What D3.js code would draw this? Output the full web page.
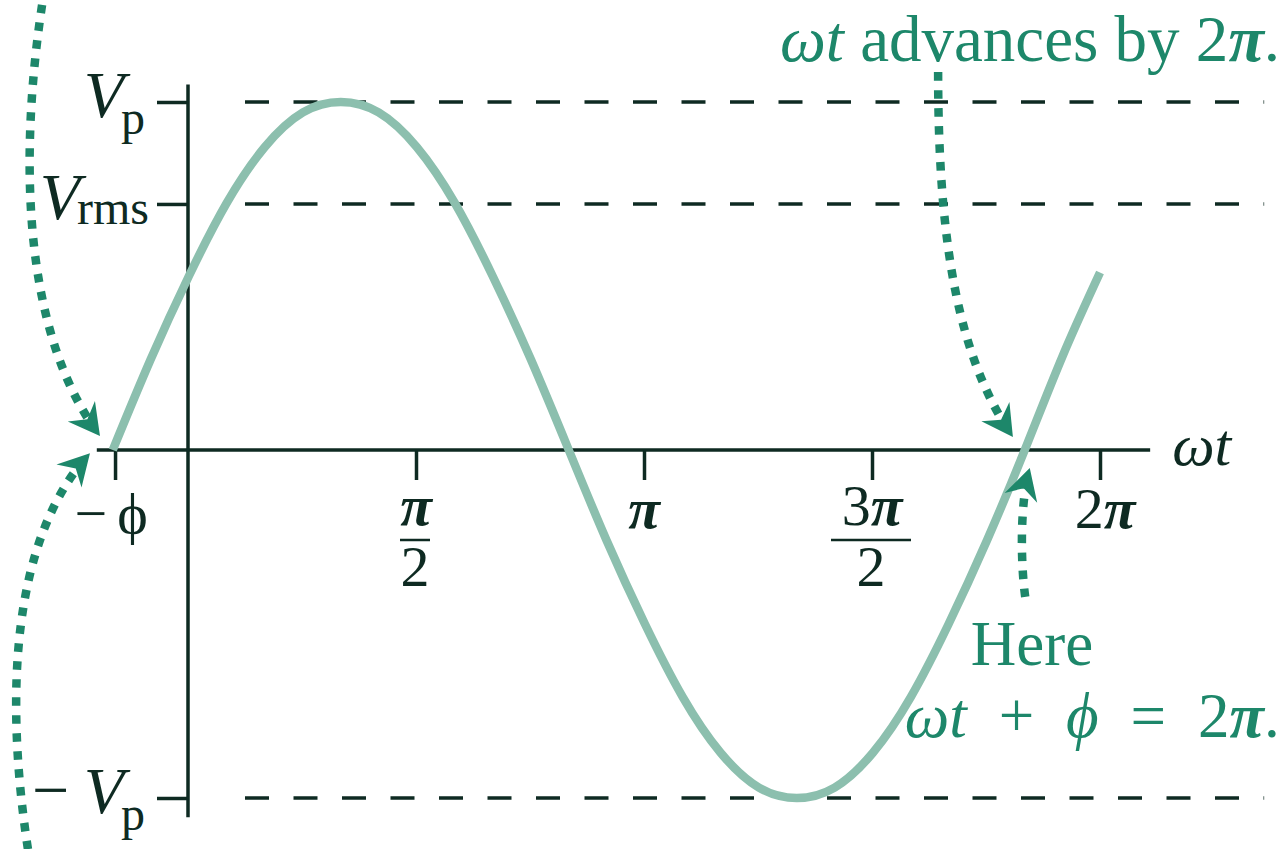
<!DOCTYPE html>
<html>
<head>
<meta charset="utf-8">
<script src="https://cdn.jsdelivr.net/npm/d3@7"></script>
<style>
body { margin: 0; background: #fff; }
svg { display: block; }
text { font-family: "Liberation Serif", "Times New Roman", serif; }
</style>
</head>
<body>
<svg id="chart" width="1283" height="849"></svg>
<script>
var width = 1283, height = 849;
var dark = "#0e2a22";
var teal = "#1d876a";
var curveColor = "#8cbfae";

// data: phase (units of pi) and voltage (units of Vp)
var phaseValues   = [-0.165, -0.082, 0.002, 0.085, 0.168, 0.252, 0.335, 0.418, 0.502, 0.585, 0.668, 0.752, 0.835,
                     0.918, 1.002, 1.085, 1.168, 1.252, 1.335, 1.418, 1.502, 1.585, 1.668, 1.752, 1.835, 1.918, 2.0];
var voltageValues = [0, 0.26, 0.5, 0.71, 0.87, 0.97, 1.0, 0.97, 0.87, 0.71, 0.5, 0.26, 0,
                     -0.26, -0.5, -0.71, -0.87, -0.97, -1.0, -0.97, -0.87, -0.71, -0.5, -0.26, 0, 0.27, 0.51];

var xTickValues = [-0.16, 0.5, 1, 1.5, 2];
var xTickNumer  = ["−ϕ", "π", "π", "3π", "2π"];
var xTickDenom  = ["", "2", "", "2", ""];

var yTickValues = [1, 0.707, -1];
var yTickSign   = ["", "", "−"];
var yTickSub    = ["p", "rms", "p"];

// annotation arrows: [start, control1, control2, tip] in data units
var arrowPaths = [
	[[-0.320, 1.279], [-0.368, 0.862], [-0.368, 0.345], [-0.193, 0.040]],
	[[-0.351, -1.147], [-0.401, -0.718], [-0.390, -0.259], [-0.215, -0.009]],
	[[1.645, 1.086], [1.645, 0.575], [1.693, 0.259], [1.809, 0.037]],
	[[1.836, -0.422], [1.825, -0.316], [1.825, -0.144], [1.846, -0.052]]
];

var svg = d3.select("#chart");

// Scales ====================================================================
var xScale = d3.scaleLinear().domain([0, 2]).range([188, 1100]);
var yScale = d3.scaleLinear().domain([-1, 1]).range([798, 102]);

// Dashed reference levels ===================================================
svg.selectAll("line.level")
	.data(yTickValues)
	.enter().append("line")
	.attr("class", "level")
	.attr("x1", xScale(0.125)).attr("x2", xScale(2.36))
	.attr("y1", function(d) { return yScale(d) })
	.attr("y2", function(d) { return yScale(d) })
	.attr("stroke", dark)
	.attr("stroke-width", 3.5)
	.attr("stroke-dasharray", "24,24.5");

// Axes ======================================================================
var xAxis = d3.axisBottom(xScale)
	.tickValues(xTickValues)
	.tickSize(30)
	.tickFormat("");

var yAxis = d3.axisLeft(yScale)
	.tickValues(yTickValues)
	.tickSize(31)
	.tickFormat("");

var gx = svg.append("g")
	.attr("class", "x-axis")
	.attr("transform", "translate(0," + yScale(0) + ")")
	.call(xAxis);
gx.select(".domain").remove();
gx.selectAll(".tick line").attr("stroke", dark).attr("stroke-width", 3.5);

var gy = svg.append("g")
	.attr("class", "y-axis")
	.attr("transform", "translate(" + xScale(0) + ",0)")
	.call(yAxis);
gy.select(".domain").remove();
gy.selectAll(".tick line").attr("stroke", dark).attr("stroke-width", 3.5);

svg.append("line")
	.attr("x1", xScale(-0.2)).attr("x2", xScale(2.11))
	.attr("y1", yScale(0)).attr("y2", yScale(0))
	.attr("stroke", dark).attr("stroke-width", 3.5);

svg.append("line")
	.attr("x1", xScale(0)).attr("x2", xScale(0))
	.attr("y1", yScale(1.05)).attr("y2", yScale(-1.055))
	.attr("stroke", dark).attr("stroke-width", 3.5);

// Curve =====================================================================
var wave = d3.line()
	.x(function(d) { return xScale(d[0]) })
	.y(function(d) { return yScale(d[1]) })
	.curve(d3.curveNatural);

svg.append("path")
	.datum(d3.zip(phaseValues, voltageValues))
	.attr("d", wave)
	.attr("fill", "none")
	.attr("stroke", curveColor)
	.attr("stroke-width", 8.5);

// Labels ====================================================================
function addRich(sel, str) {
	// pi bold italic, omega / t / phi italic
	str.split(/(π|ω|t|ϕ)/).forEach(function(part) {
		if (!part) return;
		var ts = sel.append("tspan").text(part);
		if (part === "π") ts.attr("font-style", "italic").attr("font-weight", "bold");
		if (part === "ω" || part === "t") ts.attr("font-style", "italic");
	});
}

// y tick labels
yTickValues.forEach(function(v, i) {
	var rms = yTickSub[i] === "rms";
	svg.append("text")
		.attr("x", rms ? 80 : 124)
		.attr("y", yScale(v) + 15)
		.attr("text-anchor", "end")
		.attr("fill", dark)
		.attr("font-size", 66)
		.attr("font-style", "italic")
		.text("V");
	svg.append("text")
		.attr("x", rms ? 77 : 121)
		.attr("y", yScale(v) + (rms ? 20 : 32))
		.attr("fill", dark)
		.attr("font-size", 48)
		.text(yTickSub[i]);
	if (yTickSign[i]) {
		svg.append("text")
			.attr("x", 32).attr("y", yScale(v) + 14)
			.attr("fill", dark)
			.attr("font-size", 66)
			.text(yTickSign[i]);
	}
});

// x tick labels
xTickValues.forEach(function(v, i) {
	var cx = xScale(v);
	var g = svg.append("g").attr("fill", dark);
	if (i === 0) {
		var t0 = g.append("text")
			.attr("x", cx - 4).attr("y", 533)
			.attr("text-anchor", "middle")
			.attr("font-size", 58);
		t0.append("tspan").text("−");
		t0.append("tspan").text("ϕ").attr("dx", 10);
		return;
	}
	var t = g.append("text")
		.attr("x", cx + (i === 4 ? 5 : 0))
		.attr("y", xTickDenom[i] ? 525 : 528)
		.attr("text-anchor", "middle")
		.attr("font-size", 58);
	addRich(t, xTickNumer[i]);
	if (xTickDenom[i]) {
		var bw = xTickNumer[i].length > 1 ? 80 : 30;
		g.append("line")
			.attr("x1", cx - bw / 2 - 1).attr("x2", cx + bw / 2 - 1)
			.attr("y1", 540).attr("y2", 540)
			.attr("stroke", dark).attr("stroke-width", 2.5);
		g.append("text")
			.attr("x", cx - 1).attr("y", 586)
			.attr("text-anchor", "middle")
			.attr("font-size", 58)
			.text(xTickDenom[i]);
	}
});

// axis name
var axisName = svg.append("text")
	.attr("x", xScale(2.11) + 22).attr("y", yScale(0) + 15)
	.attr("fill", dark)
	.attr("font-size", 60);
addRich(axisName, "ωt");

// Annotations ===============================================================
var topNote = svg.append("text")
	.attr("x", xScale(2.395)).attr("y", yScale(1.118))
	.attr("text-anchor", "end")
	.attr("fill", teal)
	.attr("font-size", 65);
addRich(topNote, "ωt advances by 2π.");

svg.append("text")
	.attr("x", xScale(1.851)).attr("y", yScale(-0.618))
	.attr("text-anchor", "middle")
	.attr("fill", teal)
	.attr("font-size", 63)
	.text("Here");

// equation: natural glyph widths, spread gaps so it spans the same width
var eqParts = [["ωt", "italic"], ["+", ""], ["ϕ", "italic"], ["=", ""], ["2", ""], ["π", "bi"], [".", ""]];
var eqLeft = xScale(1.572), eqRight = xScale(2.394);
var eqNote = svg.append("text")
	.attr("x", eqLeft)
	.attr("y", yScale(-0.825))
	.attr("fill", teal)
	.attr("font-size", 63);
var eqSpans = eqParts.map(function(d) {
	var ts = eqNote.append("tspan").text(d[0]);
	if (d[0] === "ωt") { ts.text(null); addRich(ts, "ωt"); }
	if (d[1] === "italic") ts.attr("font-style", "italic");
	if (d[1] === "bi") ts.attr("font-style", "italic").attr("font-weight", "bold");
	return ts;
});
var baseW = eqNote.node().getComputedTextLength();
var gap = Math.max(0, (eqRight - eqLeft - baseW) / 4);
[1, 2, 3, 4].forEach(function(k) { eqSpans[k].attr("dx", gap) });

// dotted arrows
arrowPaths.forEach(function(a) {
	var p = a.map(function(d) { return [xScale(d[0]), yScale(d[1])] });
	var path = d3.path();
	path.moveTo(p[0][0], p[0][1]);
	path.bezierCurveTo(p[1][0], p[1][1], p[2][0], p[2][1], p[3][0], p[3][1]);

	var el = svg.append("path")
		.attr("d", path.toString())
		.attr("fill", "none")
		.attr("stroke", teal)
		.attr("stroke-width", 8.5);
	// stop the dots short of the head
	var len = el.node().getTotalLength();
	var cut = len - 20;
	var dashes = [];
	for (var s = 0; s < cut; s += 18) dashes.push(Math.min(8.5, cut - s), 9.5);
	dashes.push(0, 300);
	el.attr("stroke-dasharray", dashes.join(","));

	var ang = Math.atan2(p[3][1] - p[2][1], p[3][0] - p[2][0]) * 180 / Math.PI;
	svg.append("path")
		.attr("d", "M0,0 L-31,-17 L-21,0 L-31,17 Z")
		.attr("fill", teal)
		.attr("transform", "translate(" + p[3][0] + "," + p[3][1] + ") rotate(" + ang + ")");
});
</script>
</body>
</html>
